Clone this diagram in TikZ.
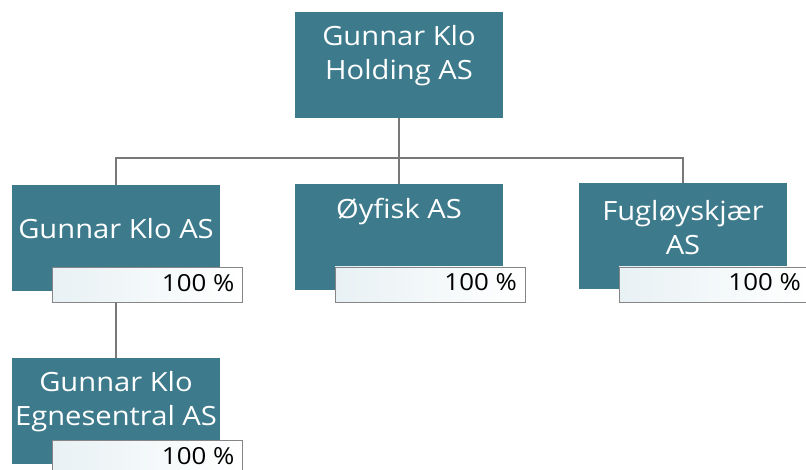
\documentclass[tikz,border=0pt]{standalone}
\usepackage{fontspec}
\setmainfont[FakeStretch=1.1]{Open Sans}
\definecolor{teal1}{RGB}{60,122,140}
\definecolor{lblfill}{RGB}{232,241,244}
\definecolor{lnk}{RGB}{120,120,120}
\begin{document}
\begin{tikzpicture}[x=1pt,y=-1pt,
  box/.style={fill=teal1,draw=none,minimum width=208pt,minimum height=106pt,inner sep=0pt,outer sep=0pt},
  lbl/.style={draw=lnk!90,line width=0.8pt,left color=lblfill,right color=white,minimum width=190pt,minimum height=35pt,inner sep=0pt,outer sep=0pt},
  btxt/.style={text=white,font=\fontsize{26.5}{34}\selectfont,align=center,inner sep=0pt},
  ptxt/.style={text=black,font=\fontsize{23.5}{26}\selectfont,anchor=east,inner sep=0pt},
  link/.style={draw=lnk,line width=1.1pt}]
\useasboundingbox[fill=white] (0,0) rectangle (806,470);
% boxes
\node[box] (top) at (399,65) {};
\node[box] (b1) at (116,238) {};
\node[box] (b2) at (399,237) {};
\node[box] (b3) at (683,236) {};
\node[box] (b4) at (116,411) {};
% labels
\node[lbl] (l1) at (147.5,285) {};
\node[lbl] (l2) at (430,284.5) {};
\node[lbl] (l3) at (714,284.5) {};
\node[lbl] (l4) at (147.5,458) {};
% texts
\node[btxt] (ttop) at (399,56) {Gunnar Klo\\Holding AS};
\node[btxt] (t1) at (116,229) {Gunnar Klo AS};
\node[btxt] (t2) at (399,212) {Øyfisk AS};
\node[btxt] (t3) at (683,228) {Fugløyskjær\\AS};
\node[btxt] (t4) at (116,402) {Gunnar Klo\\Egnesentral AS};
\node[ptxt] (p1) at ([xshift=-8pt,yshift=2pt]l1.east) {100 \%};
\node[ptxt] (p2) at ([xshift=-8pt,yshift=2pt]l2.east) {100 \%};
\node[ptxt] (p3) at ([xshift=-8pt,yshift=2pt]l3.east) {100 \%};
\node[ptxt] (p4) at ([xshift=-8pt,yshift=2pt]l4.east) {100 \%};
% connectors
\coordinate (bus) at (399,158);
\coordinate (s1) at (b1.south |- l1.south);
\draw[link] (top.south) -- (b2.north);
\draw[link] (b1.north) |- (bus) -| (b3.north);
\draw[link] (s1) -- (b4.north);
\end{tikzpicture}
\end{document}
